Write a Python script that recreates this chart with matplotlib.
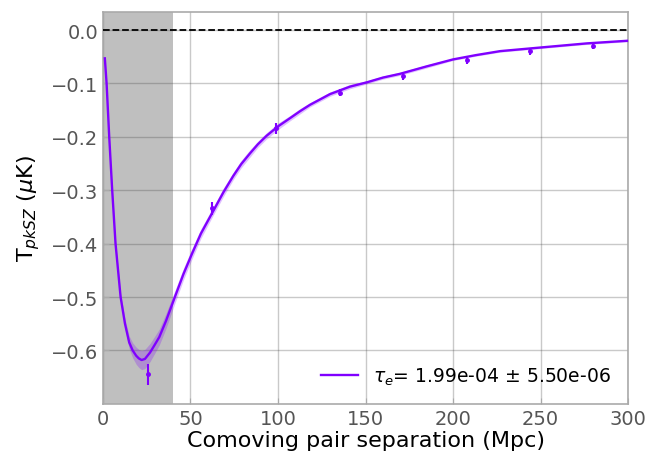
import matplotlib
matplotlib.use("Agg")
import matplotlib.pyplot as plt
import numpy as np

# measured pairwise kSZ points
r_data = [26, 62.5, 98.8, 135.2, 171.5, 207.7, 244, 280]
t_data = [-0.645, -0.334, -0.184, -0.117, -0.087, -0.057, -0.040, -0.030]
t_err = [0.020, 0.012, 0.010, 0.007, 0.007, 0.006, 0.006, 0.006]

# best-fit model curve
r_model = [1.1, 2.1, 3.6, 5.3, 7.2, 10.1, 12.6, 15, 17, 19, 20.5, 22.1, 24, 26.9,
           29.5, 32.2, 36, 41.1, 46, 51, 56, 62, 68.8, 74.5, 79, 84, 88.5, 93.5, 100.2,
           106.9, 112.6, 118.3, 129.7, 141.1, 150.7, 160, 169.7, 185, 200, 213,
           226.9, 250.7, 276.4, 300]
t_model = [-0.053, -0.100, -0.200, -0.300, -0.400, -0.500, -0.550, -0.585, -0.600,
           -0.610, -0.615, -0.618, -0.616, -0.604, -0.590, -0.575, -0.545, -0.500,
           -0.457, -0.418, -0.381, -0.345, -0.304, -0.273, -0.251, -0.231, -0.214,
           -0.198, -0.180, -0.165, -0.152, -0.140, -0.120, -0.106, -0.098, -0.089,
           -0.082, -0.068, -0.055, -0.047, -0.0395, -0.0325, -0.0250, -0.020]
t_band = [0.001, 0.002, 0.003, 0.004, 0.005, 0.007, 0.009, 0.012, 0.014, 0.016, 0.017,
          0.018, 0.018, 0.017, 0.016, 0.015, 0.014, 0.012, 0.011, 0.010, 0.009,
          0.008, 0.008, 0.007, 0.007, 0.007, 0.006, 0.006, 0.006, 0.005, 0.005,
          0.004, 0.004, 0.004, 0.003, 0.003, 0.003, 0.003, 0.002, 0.002, 0.002,
          0.002, 0.002, 0.002]
label = r"$\tau_e$= 1.99e-04 $\pm$ 5.50e-06"

color = plt.cm.rainbow(0.0)
tick_grey = "#555555"

fig = plt.figure(figsize=(6.64, 4.6), dpi=100)
ax = fig.add_axes([0.155, 0.12, 0.791, 0.852])

ax.axvspan(0, 40, color="#bfbfbf", zorder=0.2, lw=0)
ax.axhline(0, color="black", ls="--", lw=1.3, zorder=3)

lo = np.array(t_model) - np.array(t_band)
hi = np.array(t_model) + np.array(t_band)
ax.fill_between(r_model, lo, hi, color=color, alpha=0.25, lw=0, zorder=3)
ax.plot(r_model, t_model, color=color, lw=1.7, label=label, zorder=4)
ax.errorbar(r_data, t_data, yerr=t_err, fmt="o", ms=2.5, color=color,
            elinewidth=1.5, capsize=0, zorder=5)

ax.set_xlim(0, 300)
ax.set_ylim(-0.70, 0.034)
ax.set_xticks([0, 50, 100, 150, 200, 250, 300])
ax.set_yticks([0.0, -0.1, -0.2, -0.3, -0.4, -0.5, -0.6])

ax.set_axisbelow(True)
ax.grid(True, color="#404040", alpha=0.28, lw=1.0)
for s in ax.spines.values():
    s.set_color("#aaaaaa")
    s.set_linewidth(1.2)
ax.tick_params(direction="in", colors="#aaaaaa", labelcolor=tick_grey, labelsize=14, length=4)

ax.set_xlabel("Comoving pair separation (Mpc)", fontsize=16, labelpad=2)
ax.set_ylabel(r"T$_{pkSZ}$ ($\mu$K)", fontsize=16, labelpad=6)

ax.legend(loc="lower right", frameon=False, fontsize=13.5)

fig.savefig("out.png", dpi=100)
